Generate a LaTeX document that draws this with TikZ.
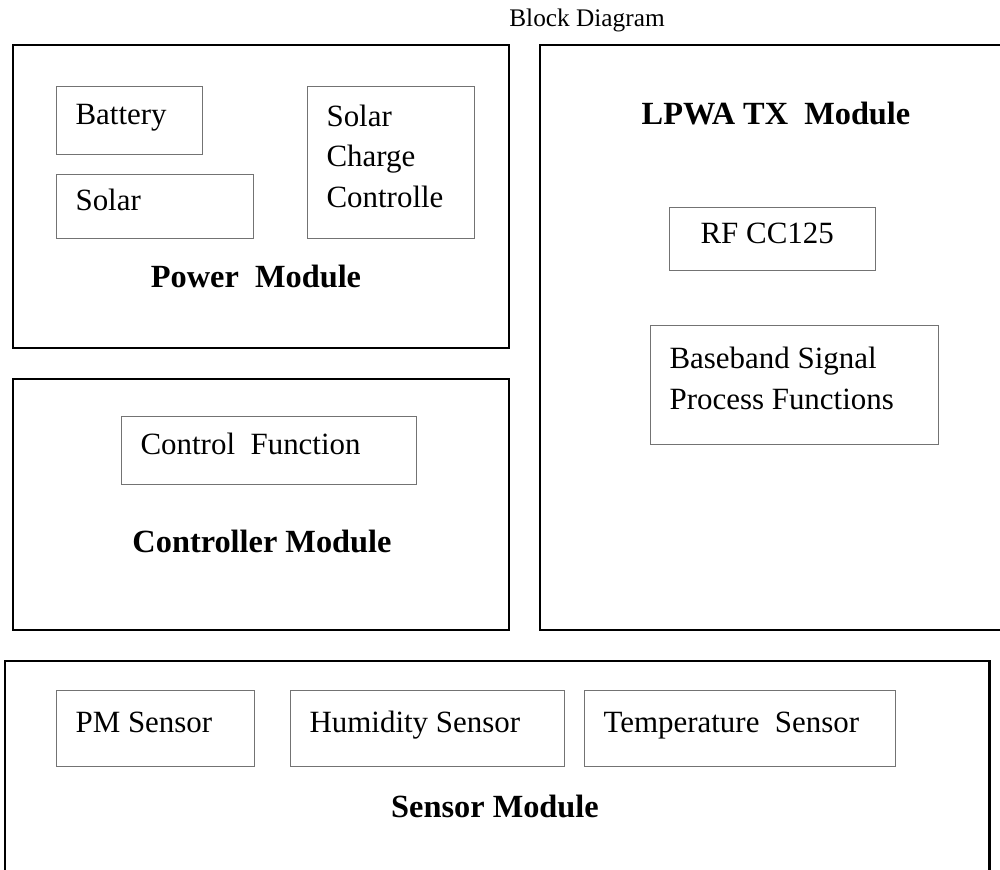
\documentclass[tikz,border=0pt]{standalone}
\usepackage{fontspec}
\setmainfont{Liberation Serif}
\usetikzlibrary{positioning}
\tikzset{
    module/.style={
        draw,
        line width=0.8pt,
        anchor=north west,
        inner sep=0pt
    },
    part/.style={
        draw=black!55,
        line width=0.4pt,
        anchor=north west,
        align=flush left,
        inner xsep=0.2375cm,
        inner ysep=0pt,
        text height=8pt,
        text depth=5pt,
        font=\fontsize{11}{14.5}\selectfont
    },
    modlabel/.style={anchor=base, font=\fontsize{11.5}{14}\selectfont\bfseries},
    caption/.style={anchor=base, font=\fontsize{9}{11}\selectfont}
}

\begin{document}
\begin{tikzpicture}[x=0.0125cm, y=-0.0125cm]
\useasboundingbox (0,0) rectangle (1000,869);

\node[caption] (title) at (587,26) {Block Diagram};

% module frames
\node[module, minimum width=6.2cm, minimum height=3.7875cm] (power) at (12,44) {};
\node[module, minimum width=6.2cm, minimum height=3.1375cm] (ctrl) at (12,378) {};
\node[module, minimum width=6cm, minimum height=7.3125cm] (lpwa) at (539,44) {};
\node[module, minimum width=12.3cm, minimum height=2.875cm] (sensor) at (4,660) {};

% power module
\node[part, text width=1.35cm, minimum height=0.85cm] (battery) at (56,86) {Battery};
\node[part, text width=1.9875cm, minimum height=0.8cm] (solar) at (56,174) {Solar};
\node[part, text width=1.6125cm, minimum height=1.9cm, text depth=34pt] (charger) at (307,86) {Solar\\Charge\\Controlle};
\node[modlabel] (powerT) at (256,287) {Power~ Module};

% controller module
\node[part, text width=3.2125cm, minimum height=0.85cm] (ctrlfn) at (121,416) {Control~ Function};
\node[modlabel] (ctrlT) at (262,552) {Controller Module};

% lpwa module
\node[modlabel] (lpwaT) at (776,124) {LPWA TX~ Module};
\node[part, inner xsep=0.3875cm, text width=1.8cm, minimum height=0.7875cm] (rf) at (669,207) {RF CC125};
\node[part, text width=3.125cm, minimum height=1.4875cm, text depth=19.5pt] (baseband) at (650,325) {Baseband Signal\\Process Functions};

% sensor module
\node[part, text width=2cm, minimum height=0.95cm] (pm) at (56,690) {PM Sensor};
\node[part, text width=2.95cm, minimum height=0.95cm] (humid) at (290,690) {Humidity Sensor};
\node[part, text width=3.4125cm, minimum height=0.95cm] (temp) at (584,690) {Temperature~ Sensor};
\node[modlabel] (sensorT) at (495,817) {Sensor Module};
\end{tikzpicture}
\end{document}
